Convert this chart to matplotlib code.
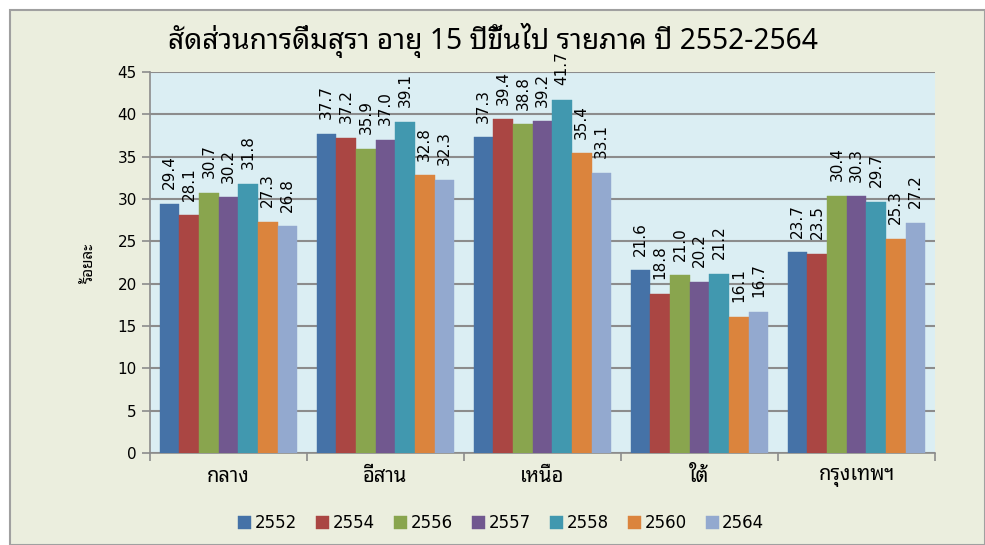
import matplotlib
matplotlib.use("Agg")
import matplotlib.pyplot as plt
import numpy as np
from matplotlib import font_manager
from matplotlib.patches import Rectangle

regions = ["กลาง", "อีสาน", "เหนือ", "ใต้", "กรุงเทพฯ"]
years = ["2552", "2554", "2556", "2557", "2558", "2560", "2564"]
v2552 = [29.4, 37.7, 37.3, 21.6, 23.7]
v2554 = [28.1, 37.2, 39.4, 18.8, 23.5]
v2556 = [30.7, 35.9, 38.8, 21.0, 30.4]
v2557 = [30.2, 37.0, 39.2, 20.2, 30.3]
v2558 = [31.8, 39.1, 41.7, 21.2, 29.7]
v2560 = [27.3, 32.8, 35.4, 16.1, 25.3]
v2564 = [26.8, 32.3, 33.1, 16.7, 27.2]
series = [v2552, v2554, v2556, v2557, v2558, v2560, v2564]
colors = ["#4572A7", "#AA4643", "#89A54E", "#71588F", "#4198AF", "#DB843D", "#93A9CF"]
title = "สัดส่วนการดื่มสุรา อายุ 15 ปีขึ้นไป รายภาค ปี 2552-2564"
ylabel = "ร้อยละ"

installed = {f.name for f in font_manager.fontManager.ttflist}
thai = [n for n in ["Noto Sans Thai Looped", "Noto Sans Thai UI", "Loma",
                    "Noto Sans Thai"] if n in installed]
fams = thai + ["DejaVu Sans"]
plt.rcParams["font.family"] = fams
num_font = ["DejaVu Sans"]

fig = plt.figure(figsize=(9.85, 5.45), dpi=100)
fig.patch.set_facecolor("white")
bg = Rectangle((10 / 985, 0), 1 - 10 / 985, 1 - 10 / 545,
               transform=fig.transFigure, facecolor="#EBEEDE",
               edgecolor="#A0A0A0", linewidth=1.5, zorder=-10)
fig.add_artist(bg)

ax = fig.add_axes([150 / 985, (545 - 453) / 545, 785 / 985, (453 - 72) / 545])
ax.set_zorder(1)
ax.set_facecolor("#DBEEF3")

n = len(series)
bw = 1.0 / (n + 1)
x = np.arange(len(regions))
for i, (vals, c, yr) in enumerate(zip(series, colors, years)):
    pos = x - 0.5 + bw + i * bw
    ax.bar(pos, vals, width=bw, color=c, label=yr, zorder=3,
           edgecolor=c, linewidth=0.3)
    for xp, v in zip(pos, vals):
        ax.annotate(f"{v:.1f}", (xp, v), xytext=(0, 10.5), textcoords="offset points",
                    rotation=90, ha="center", va="bottom",
                    fontsize=11, family=num_font, zorder=4, annotation_clip=False)

ax.set_xlim(-0.5, len(regions) - 0.5)
ax.set_ylim(0, 45)
ax.set_yticks(np.arange(0, 46, 5))
ax.yaxis.grid(True, color="#8C8C8C", linewidth=1.5, zorder=1)
ax.set_axisbelow(True)
ax.set_xticks(np.arange(-0.5, len(regions), 1.0))
ax.set_xticklabels([])
ax.set_xticks(x, minor=True)
ax.set_xticklabels(regions, minor=True, fontsize=14.5)
ax.tick_params(axis="x", which="minor", length=0, pad=10)
ax.tick_params(axis="x", which="major", length=6, color="#8C8C8C", width=1.2)
ax.tick_params(axis="y", length=6, color="#8C8C8C", width=1.2, labelsize=11)
for lab in ax.get_yticklabels():
    lab.set_family(num_font)
for s in ["top", "right"]:
    ax.spines[s].set_visible(False)
for s in ["left", "bottom"]:
    ax.spines[s].set_color("#8C8C8C")
    ax.spines[s].set_linewidth(1.2)

ax.set_ylabel(ylabel, fontsize=11, fontweight="bold", labelpad=14)
fig.text(0.5, 1 - 40 / 545, title, ha="center", va="center", fontsize=20.3,
         fontweight="bold")

fig.legend(loc="center", bbox_to_anchor=(501 / 985, 1 - 523 / 545), ncol=7,
           frameon=False, prop={"family": num_font, "size": 12},
           handlelength=0.8, handleheight=0.8,
           handletextpad=0.2, columnspacing=1.15)

fig.savefig("out.png", dpi=100, facecolor=fig.get_facecolor())
